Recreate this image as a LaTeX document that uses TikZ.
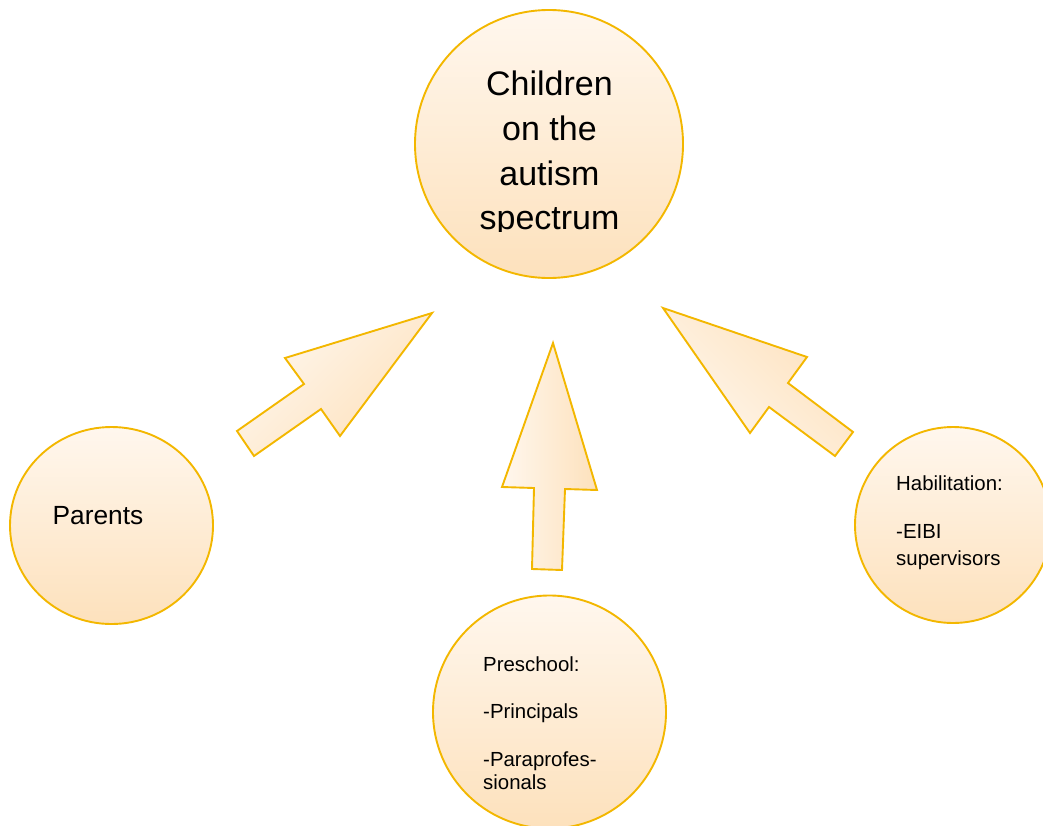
\documentclass[tikz,border=0pt]{standalone}
\usepackage{fontspec}
\setmainfont{Liberation Sans}
\definecolor{rim}{HTML}{F3B700}
\definecolor{paleorange}{HTML}{FFF7EE}
\definecolor{peach}{HTML}{FDE1BC}
\tikzset{
  bubble/.style={draw=rim, line width=1.9pt, top color=paleorange, bottom color=peach},
  blockarrow/.style={draw=rim, line width=1.9pt, line join=miter, top color=paleorange, bottom color=peach},
  label/.style={inner sep=0pt, anchor=base west, text=black},
  biglabel/.style={inner sep=0pt, anchor=base, text=black, font=\fontsize{34}{44.7}\selectfont},
}
\begin{document}
\begin{tikzpicture}[x=1pt, y=-1pt]
  \clip (0,0) rectangle (1043,825);

  % circles
  \path[bubble] (549,144) circle [radius=134] coordinate (kidsC);
  \path[bubble] (111.5,525.5) ellipse [x radius=101.5, y radius=98.5] coordinate (parC);
  \path[bubble] (953,525) circle [radius=98] coordinate (habC);
  \path[bubble] (549.5,712) circle [radius=116.5] coordinate (preC);

  % block arrows pointing to the centre
  \path[blockarrow, shading angle=45]
    (432,313) -- (285,358) -- (304,384) -- (237,431) -- (254,456)
    -- (321,409) -- (340,436) -- cycle;
  \path[blockarrow, shading angle=90]
    (553,343) -- (502,487) -- (534,488) -- (532,569) -- (562,570)
    -- (565,489) -- (597,490) -- cycle;
  \path[blockarrow, shading angle=135]
    (663,308) -- (807,357) -- (788,383) -- (853,432) -- (835,456)
    -- (769,407) -- (750,433) -- cycle;

  % centre label, cut off at the lower edge of its text box
  \begin{scope}
    \clip (400,0) rectangle (700,231);
    \node[biglabel] (kids1) at (549.5,95.7)  {Children};
    \node[biglabel] (kids2) at (549.5,140.4) {on the};
    \node[biglabel] (kids3) at (549.5,185.1) {autism};
    \node[biglabel] (kids4) at (549.5,229.8) {spectrum};
  \end{scope}

  \node[label, font=\fontsize{26.3}{30}\selectfont] (parents) at (52.5,524) {Parents};

  \begin{scope}[every node/.style={label, font=\fontsize{20.4}{24}\selectfont}]
    \node (hab1) at (896,490.7) {Habilitation:};
    \node (hab2) at (896,538.3) {-EIBI};
    \node (hab3) at (896,565.7) {supervisors};

    \node (pre1) at (483,671) {Preschool:};
    \node (pre2) at (483,718.3) {-Principals};
    \node (pre3) at (483,766.7) {-Paraprofes-};
    \node (pre4) at (483,789) {sionals};
  \end{scope}
\end{tikzpicture}
\end{document}
